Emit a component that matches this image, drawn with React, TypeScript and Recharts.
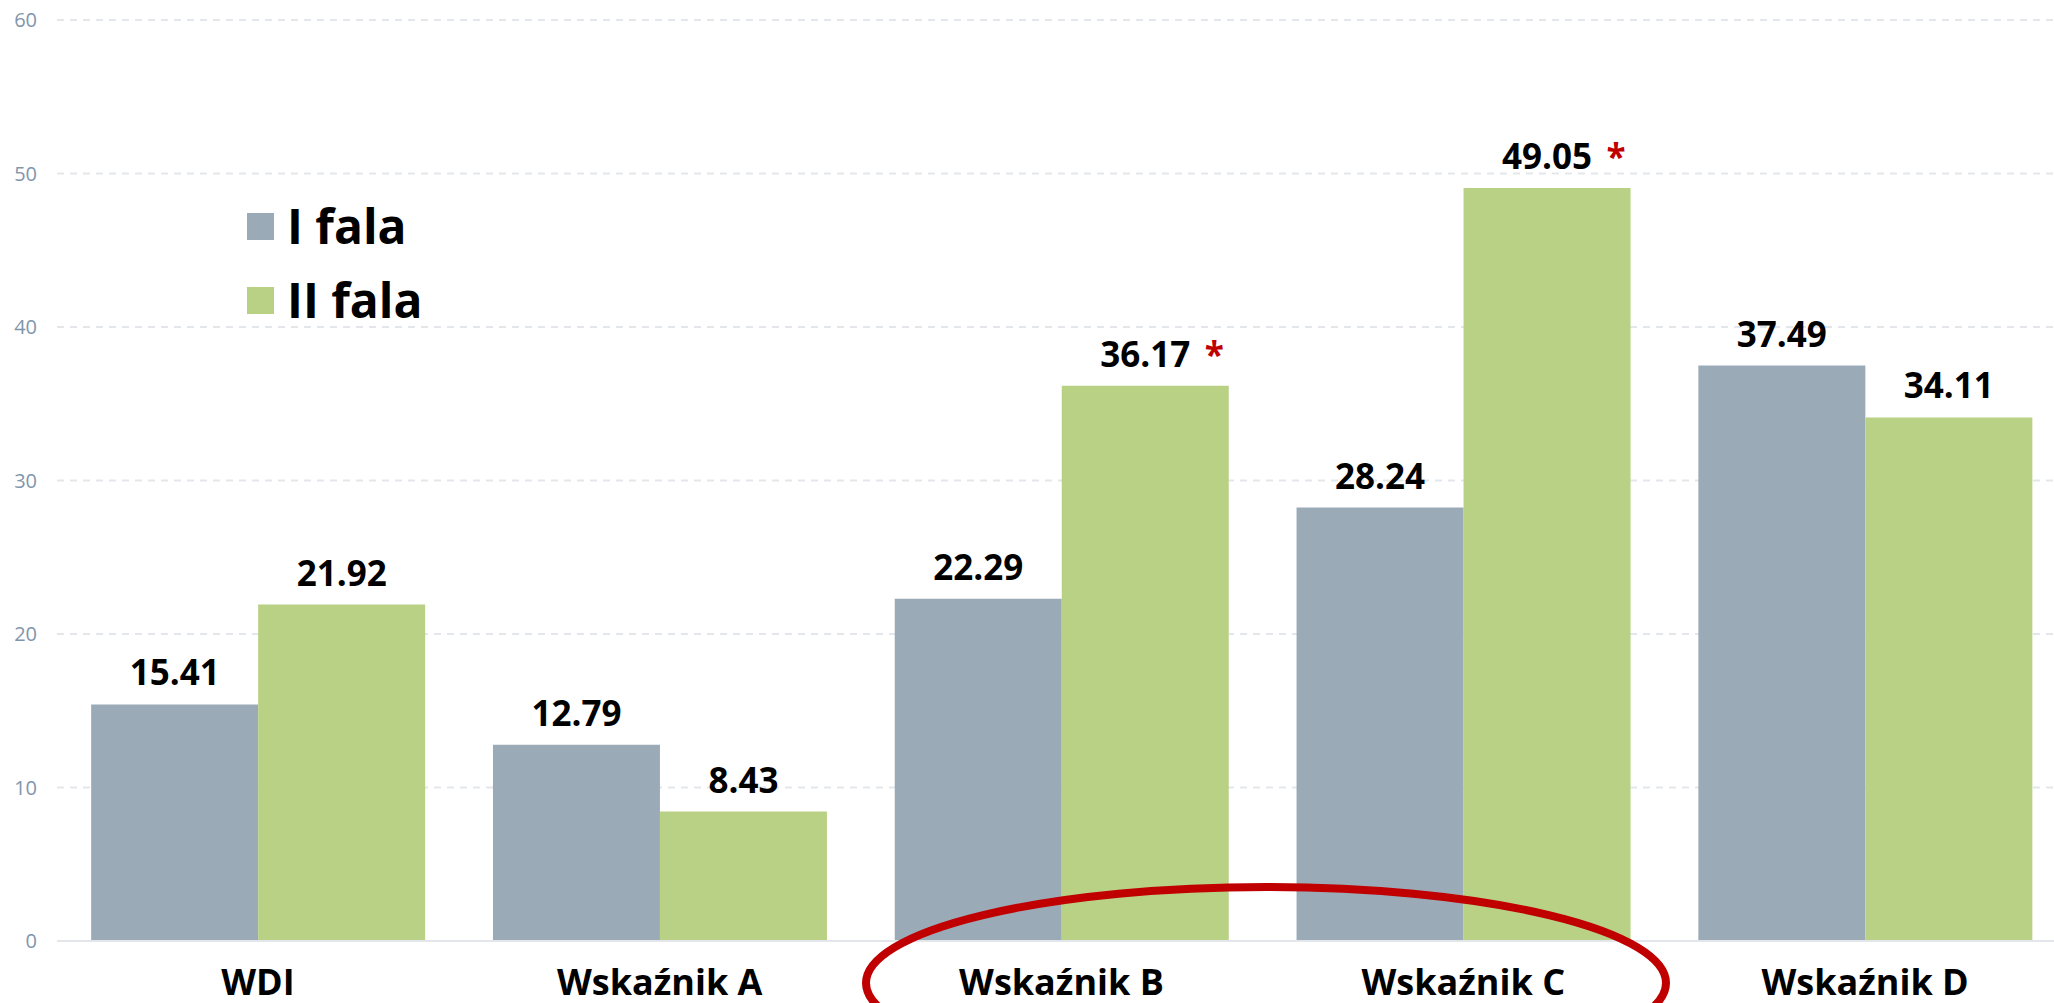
import React from 'react'
import { BarChart, Bar, XAxis, YAxis, CartesianGrid, Legend, LabelList } from 'recharts'

const categories = ['WDI', 'Wskaźnik A', 'Wskaźnik B', 'Wskaźnik C', 'Wskaźnik D']
const wave1 = [15.41, 12.79, 22.29, 28.24, 37.49]
const wave2 = [21.92, 8.43, 36.17, 49.05, 34.11]
const wave2Starred = [false, false, true, true, false]
const yTicks = [0, 10, 20, 30, 40, 50, 60]

const GRAY = '#9baab7'
const GREEN = '#b9d185'
const RED = '#c00000'
const FONT = '"Open Sans", "Noto Sans", sans-serif'

const data = categories.map((name, i) => ({
  name,
  w1: wave1[i],
  w2: wave2[i],
  star: wave2Starred[i],
}))

const fmt = (v: number) => v.toFixed(2)

function ValueLabel({ x, y, width, value, index, starred }: any) {
  const cx = x + width / 2
  const by = y - 19
  const showStar = starred && data[index]?.star
  return (
    <g>
      <text x={cx} y={by} textAnchor="middle" fontFamily={FONT} fontWeight={700} fontSize={35} fill="#000">
        {fmt(value)}
      </text>
      {showStar && (
        <text x={cx + 69} y={by} textAnchor="middle" fontFamily={FONT} fontWeight={700} fontSize={35} fill={RED}>*</text>
      )}
    </g>
  )
}

function CategoryTick({ x, y, payload }: any) {
  return (
    <text x={x} y={y + 46} textAnchor="middle" fontFamily={FONT} fontWeight={700} fontSize={36} fill="#000">
      {payload.value}
    </text>
  )
}

const legendItems = [
  { label: 'I fala', color: GRAY },
  { label: 'II fala', color: GREEN },
]

function LegendBox() {
  return (
    <div style={{ fontFamily: FONT }}>
      {legendItems.map(it => (
        <div key={it.label} style={{ display: 'flex', alignItems: 'center', height: 74 }}>
          <span style={{ width: 27, height: 27, background: it.color, display: 'inline-block', marginRight: 13 }} />
          <span style={{ fontSize: 48, fontWeight: 700, lineHeight: 1, color: '#000' }}>{it.label}</span>
        </div>
      ))}
    </div>
  )
}

export default function App() {
  return (
    <div style={{ position: 'absolute', left: 0, top: 0, width: 2054, height: 1003, overflow: 'hidden', background: '#fff' }}>
      <BarChart width={2066} height={1003} data={data} margin={{ top: 20, right: 0, left: 0, bottom: 0 }}
        barCategoryGap="8.5%" barGap={0}>
        <CartesianGrid vertical={false} strokeDasharray="7 6" stroke="#e3e7ec" strokeWidth={2} />
        <XAxis dataKey="name" height={62} tick={<CategoryTick />} tickLine={false} interval={0}
          axisLine={{ stroke: '#e3e7ec', strokeWidth: 2 }} />
        <YAxis width={57} domain={[0, 60]} ticks={yTicks} axisLine={false} tickLine={false} tickMargin={14}
          tick={{ fontSize: 20, fill: '#8196ab', fontFamily: FONT }} />
        <Legend layout="horizontal" verticalAlign="middle" align="center" content={<LegendBox />}
          wrapperStyle={{ top: 189, left: 247, right: 'auto', bottom: 'auto', width: 400 }} />
        <Bar dataKey="w1" name="I fala" fill={GRAY} isAnimationActive={false}>
          <LabelList dataKey="w1" content={<ValueLabel />} />
        </Bar>
        <Bar dataKey="w2" name="II fala" fill={GREEN} isAnimationActive={false}>
          <LabelList dataKey="w2" content={<ValueLabel starred />} />
        </Bar>
      </BarChart>
      <svg width={2054} height={1003} style={{ position: 'absolute', left: 0, top: 0, pointerEvents: 'none' }}>
        <ellipse cx={1266} cy={983} rx={400} ry={96} fill="none" stroke={RED} strokeWidth={8} />
      </svg>
    </div>
  )
}
